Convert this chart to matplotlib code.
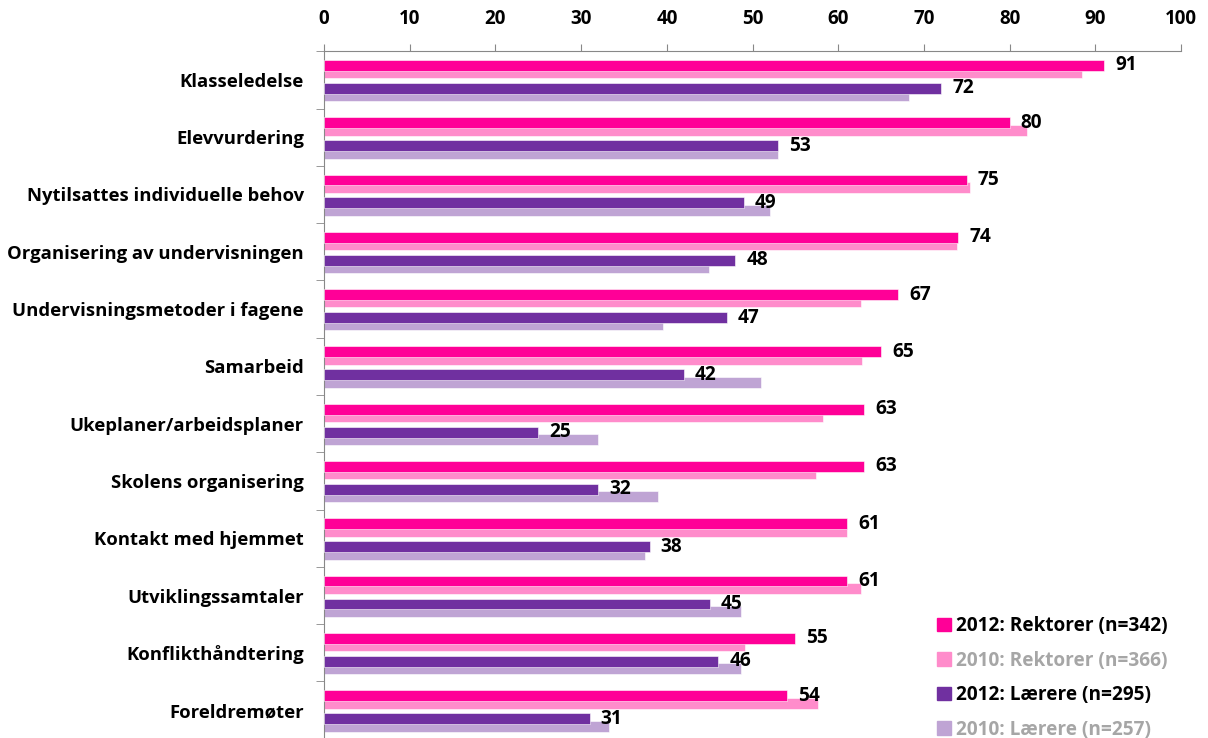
import matplotlib
matplotlib.use('Agg')
import matplotlib.pyplot as plt
from matplotlib.patches import Patch
import numpy as np

plt.rcParams['font.family'] = ['Open Sans', 'DejaVu Sans']

categories = ["Klasseledelse", "Elevvurdering", "Nytilsattes individuelle behov",
              "Organisering av undervisningen", "Undervisningsmetoder i fagene",
              "Samarbeid", "Ukeplaner/arbeidsplaner", "Skolens organisering",
              "Kontakt med hjemmet", "Utviklingssamtaler", "Konflikthåndtering",
              "Foreldremøter"]
rektorer_2012 = [91, 80, 75, 74, 67, 65, 63, 63, 61, 61, 55, 54]
rektorer_2010 = [88.5, 82, 75.4, 73.8, 62.6, 62.8, 58.2, 57.4, 61, 62.7, 49.1, 57.6]
laerere_2012 = [72, 53, 49, 48, 47, 42, 25, 32, 38, 45, 46, 31]
laerere_2010 = [68.3, 53, 52, 44.9, 39.5, 51, 32, 39, 37.5, 48.7, 48.7, 33.3]
series_names = ["2012: Rektorer (n=342)", "2010: Rektorer (n=366)",
                "2012: Lærere (n=295)", "2010: Lærere (n=257)"]
xticks = [0, 10, 20, 30, 40, 50, 60, 70, 80, 90, 100]

c_r12 = "#ff0097"
c_r10 = "#ff8ccb"
c_l12 = "#7030a0"
c_l10 = "#bfa4d4"

fig = plt.figure(figsize=(12.08, 7.38), dpi=100)
ax = fig.add_axes([0.2682, -0.001, 0.7095, 0.9316])

y = np.arange(len(categories))
h = 0.19
# 2010 bars drawn first so 2012 bars sit on top
ax.barh(y - 0.122, rektorer_2010, height=h, color=c_r10, edgecolor='white', linewidth=0.4, zorder=2)
ax.barh(y - 0.253, rektorer_2012, height=h, color=c_r12, edgecolor='white', linewidth=0.4, zorder=3)
ax.barh(y + 0.279, laerere_2010, height=h, color=c_l10, edgecolor='white', linewidth=0.4, zorder=2)
ax.barh(y + 0.148, laerere_2012, height=h, color=c_l12, edgecolor='white', linewidth=0.4, zorder=3)

for i in range(len(categories)):
	ax.annotate(str(rektorer_2012[i]), (rektorer_2012[i], y[i] - 0.253), xytext=(8, 0),
	            textcoords='offset points', va='center', ha='left', fontsize=13.7, fontweight='bold', zorder=5)
	ax.annotate(str(laerere_2012[i]), (laerere_2012[i], y[i] + 0.148), xytext=(8, 0),
	            textcoords='offset points', va='center', ha='left', fontsize=13.7, fontweight='bold', zorder=5)

ax.set_xlim(0, 100)
ax.set_ylim(len(categories) - 0.5, -0.5)
ax.xaxis.tick_top()
ax.set_xticks(xticks)
ax.set_xticklabels([str(t) for t in xticks], fontsize=13.5, fontweight='bold')
ax.tick_params(axis='x', direction='out', length=5, color='#888888', pad=11)

ax.set_yticks(y)
ax.set_yticklabels(categories, fontsize=13.3, fontweight='bold')
ax.tick_params(axis='y', length=0, pad=14.4)
ax.set_yticks(np.arange(-0.5, len(categories), 1), minor=True)
ax.tick_params(axis='y', which='minor', direction='out', length=6, color='#888888')

for s in ['right', 'bottom']:
	ax.spines[s].set_visible(False)
for s in ['top', 'left']:
	ax.spines[s].set_color('#888888')

handles = [Patch(color=c_r12), Patch(color=c_r10), Patch(color=c_l12), Patch(color=c_l10)]
leg = ax.legend(handles, series_names, loc='upper left', bbox_to_anchor=(0.768, 0.178),
                bbox_transform=fig.transFigure, frameon=False, handlelength=0.7, handleheight=0.7,
                handletextpad=0.3, labelspacing=0.76, borderpad=0,
                prop={'size': 13.7, 'weight': 'bold'})
for t, c in zip(leg.get_texts(), ['black', '#a6a6a6', 'black', '#a6a6a6']):
	t.set_color(c)

plt.savefig("out.png", dpi=100)
